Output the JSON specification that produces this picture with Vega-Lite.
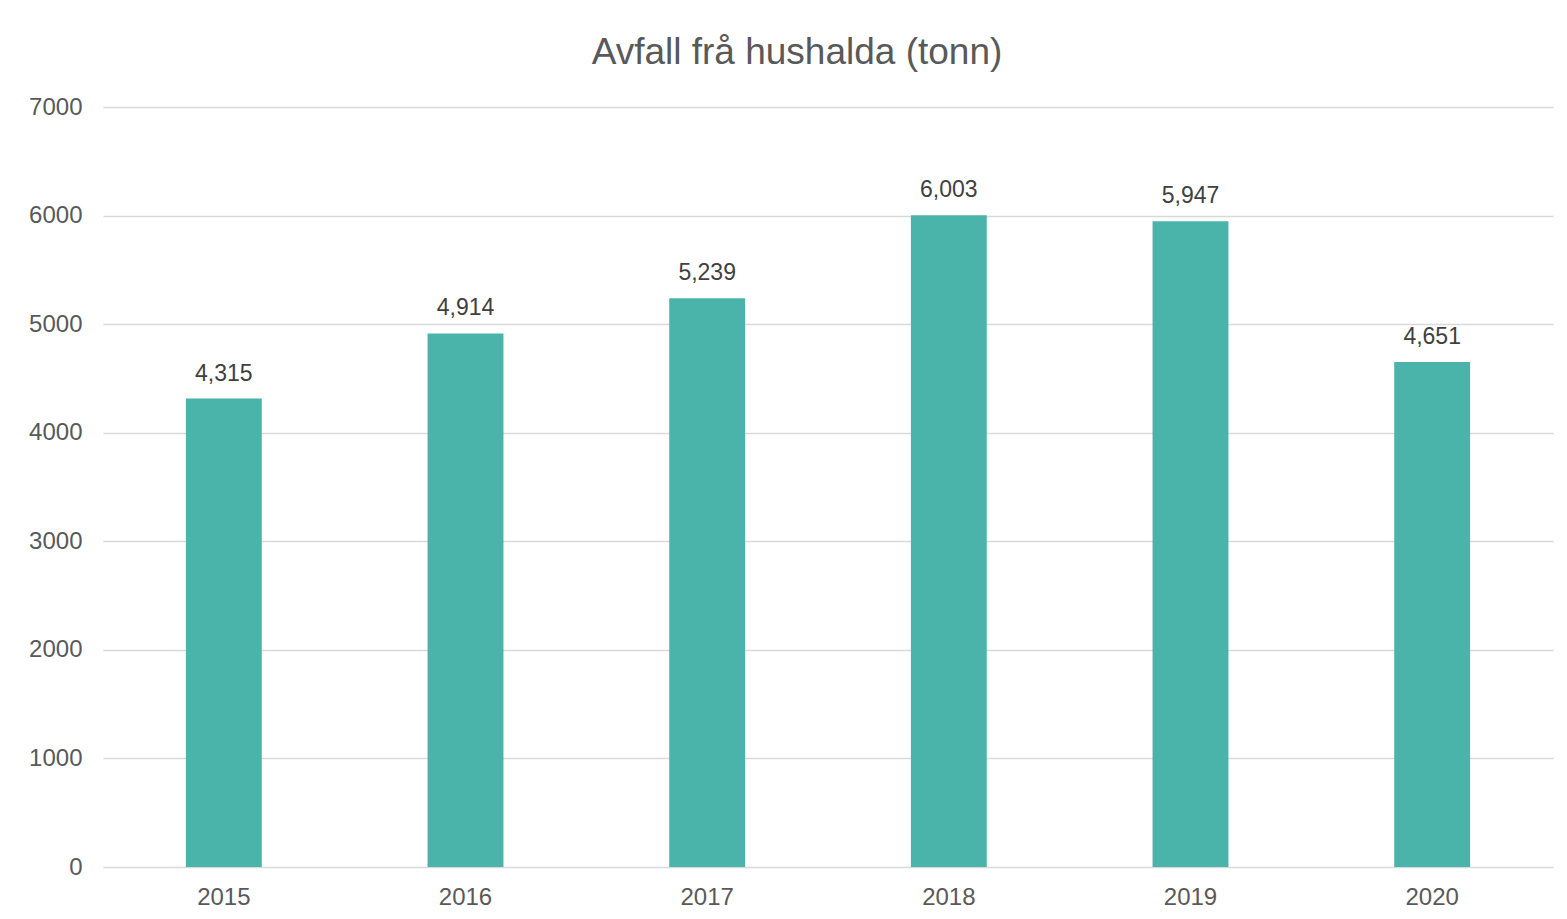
{
  "$schema": "https://vega.github.io/schema/vega-lite/v6.json",
  "autosize": {"type": "none"},
  "padding": {"left": 103, "top": 107, "right": 14, "bottom": 52},
  "width": 1450,
  "height": 760,
  "background": "white",
  "config": {"view": {"stroke": null}, "font": "Liberation Sans"},
  "title": {
    "text": "Avfall frå hushalda (tonn)",
    "font": "Liberation Sans",
    "fontSize": 37,
    "fontWeight": "normal",
    "color": "#595959",
    "anchor": "middle",
    "dx": -31,
    "dy": 46,
    "baseline": "alphabetic",
    "offset": 40
  },
  "data": {
    "values": [
      {"year": "2015", "tonn": 4315},
      {"year": "2016", "tonn": 4914},
      {"year": "2017", "tonn": 5239},
      {"year": "2018", "tonn": 6003},
      {"year": "2019", "tonn": 5947},
      {"year": "2020", "tonn": 4651}
    ]
  },
  "encoding": {
    "x": {
      "field": "year",
      "type": "ordinal",
      "scale": {"paddingInner": 0.686, "paddingOuter": 0.343},
      "axis": {
        "title": null,
        "labelAngle": 0,
        "labelFontSize": 24,
        "labelColor": "#595959",
        "labelPadding": 18,
        "ticks": false,
        "domain": false,
        "grid": false
      }
    },
    "y": {
      "field": "tonn",
      "type": "quantitative",
      "scale": {"domain": [0, 7000], "nice": false},
      "axis": {
        "title": null,
        "values": [0, 1000, 2000, 3000, 4000, 5000, 6000, 7000],
        "format": "d",
        "labelFontSize": 24,
        "labelColor": "#595959",
        "labelPadding": 21,
        "ticks": false,
        "domain": false,
        "grid": true,
        "gridColor": "#d9d9d9",
        "gridWidth": 1.5
      }
    }
  },
  "layer": [
    {"mark": {"type": "bar", "color": "#4AB3AA"}},
    {
      "mark": {"type": "text", "baseline": "bottom", "dy": -13, "fontSize": 23, "color": "#404040"},
      "encoding": {"text": {"field": "tonn", "type": "quantitative", "format": ","}}
    }
  ]
}
